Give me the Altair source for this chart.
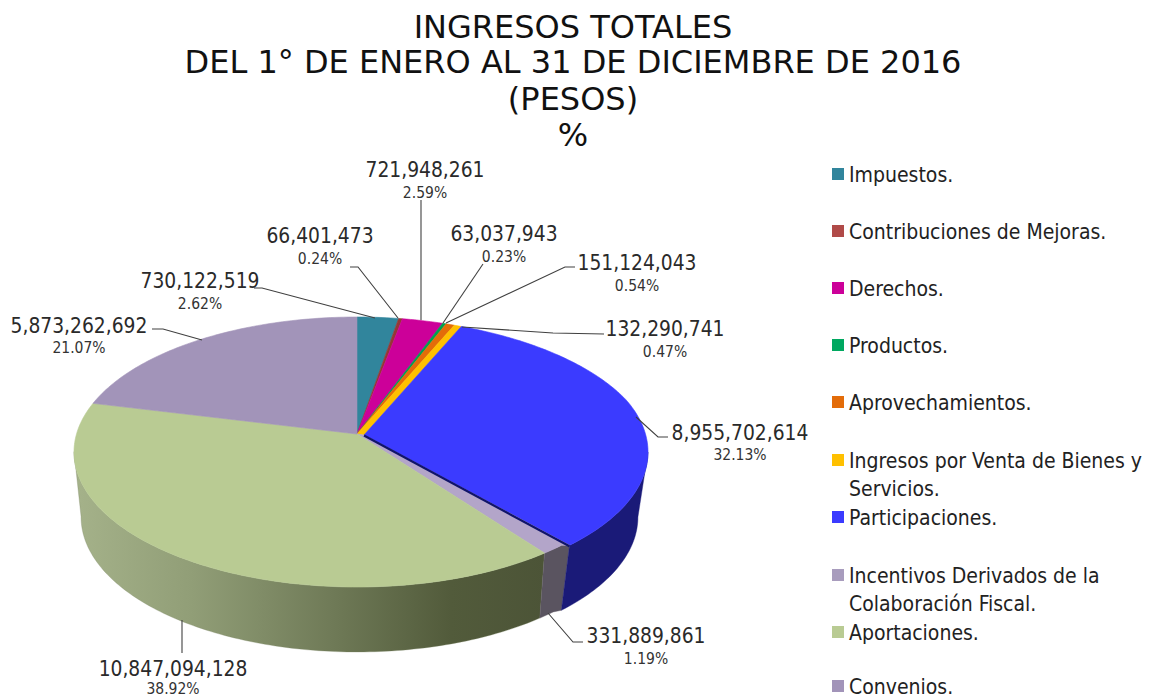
import math
import altair as alt
import pandas as pd

categories = ["Impuestos.", "Contribuciones de Mejoras.", "Derechos.", "Productos.", "Aprovechamientos.",
              "Ingresos por Venta de Bienes y Servicios.", "Participaciones.",
              "Incentivos Derivados de la Colaboración Fiscal.", "Aportaciones.", "Convenios."]
amounts = [730122519, 66401473, 721948261, 63037943, 151124043, 132290741,
           8955702614, 331889861, 10847094128, 5873262692]
percents = [2.62, 0.24, 2.59, 0.23, 0.54, 0.47, 32.13, 1.19, 38.92, 21.07]
top_colors = ["#31859c", "#953735", "#cc0099", "#00a050", "#e36c09", "#ffc000",
              "#3b3bff", "#b3a5c9", "#b9cb93", "#a294b9"]
legend_colors = ["#31859c", "#b04a48", "#cc0099", "#00a860", "#e36c09", "#ffc000",
                 "#3b3bff", "#a89cbd", "#b9cb93", "#a294b9"]

W, H = 1138, 690
OX, OY = 8, 8
CX, CY, RX, RY = 357.0, 452.0, 283.0, 135.0
TX, TY = 357.0, 434.0
DEPTH, TAPER = 65.0, 0.975
RATIO = 2.17
PULL, PULL_LOW = 8.0, 5.0

xs = alt.Scale(domain=[OX, OX + W], range=[0, W])
ys = alt.Scale(domain=[OY, OY + H], range=[0, H])
X = alt.X("x:Q", scale=xs, axis=None)
Y = alt.Y("y:Q", scale=ys, axis=None)


def rim(theta_deg):
    theta = math.radians(theta_deg)
    dx, dy = RATIO * math.sin(theta), -math.cos(theta)
    a = (dx / RX) ** 2 + (dy / RY) ** 2
    ex, ey = TX - CX, TY - CY
    b = 2 * (ex * dx / RX**2 + ey * dy / RY**2)
    c = (ex / RX) ** 2 + (ey / RY) ** 2 - 1
    s = (-b + math.sqrt(b * b - 4 * a * c)) / (2 * a)
    return TX + s * dx, TY + s * dy


def angles(start, end):
    n = max(2, int(end - start) + 2)
    return [start + (end - start) * i / (n - 1) for i in range(n)]


def poly_df(points):
    return pd.DataFrame([{"x": x, "y": y, "i": i} for i, (x, y) in enumerate(points)])


def polygon(points, paint, edge, width):
    return alt.Chart(poly_df(points)).mark_line(fill=paint, stroke=edge, strokeWidth=width).encode(
        x=X, y=Y, order="i:O")


total = sum(percents)
limits = {}
cum = 0.0
for name, pct in zip(categories, percents):
    limits[name] = (cum / total * 360, (cum + pct) / total * 360)
    cum += pct

YELLOW, BLUE, MAUVE, GREEN = categories[5], categories[6], categories[7], categories[8]
blue_start, blue_end = limits[BLUE]
bx, by = rim(blue_end)
blue_corner = (bx + PULL, by)
blue_tip = (TX + 7, TY + 1)

layers_top = []
for name, color in zip(categories, top_colors):
    start, end = limits[name]
    th = angles(start, end)
    if name == BLUE:
        pts = []
        for t in th:
            x, y = rim(t)
            pts.append((x + PULL * min(1.0, (t - start) / 50.0), y))
        poly = [blue_tip] + pts + [blue_tip]
    elif name == MAUVE:
        poly = [(TX, TY), blue_tip, blue_corner] + [rim(t) for t in th] + [(TX, TY)]
    elif name == YELLOW:
        poly = [(TX, TY)] + [rim(t) for t in th] + [blue_tip, (TX, TY)]
    else:
        poly = [(TX, TY)] + [rim(t) for t in th] + [(TX, TY)]
    layers_top.append(polygon(poly, color, color, 0.6))

# side walls: only the three slices whose rim faces the viewer
blue_th = angles(blue_start, blue_end)
blue_pts = []
blue_low = []
for t in blue_th:
    x, y = rim(t)
    ramp = min(1.0, (t - blue_start) / 50.0)
    blue_pts.append((x + PULL * ramp, y))
    blue_low.append((CX + (x - CX) * TAPER + PULL_LOW * ramp, y + DEPTH))
k = max(range(len(blue_pts)), key=lambda j: blue_pts[j][0])
wall_blue = polygon(blue_pts[k:] + blue_low[k:][::-1] + [blue_pts[k]], "#1a1a78", "#1a1a78", 0.4)

m_th = angles(*limits[MAUVE])
m_pts = [rim(t) for t in m_th]
m_low = [(CX + (x - CX) * TAPER, y + DEPTH) for x, y in m_pts]
m_low[0] = (m_low[0][0] + PULL_LOW, m_low[0][1])
wall_mauve = polygon([blue_corner] + m_pts + m_low[::-1] + [blue_corner], "#5a5460", "#5a5460", 0.4)

g_th = angles(*limits[GREEN])
g_pts = [rim(t) for t in g_th]
k = min(range(len(g_pts)), key=lambda j: g_pts[j][0])
g_pts = g_pts[:k + 1]
g_low = [(CX + (x - CX) * TAPER, y + DEPTH) for x, y in g_pts]
shade = alt.Gradient(gradient="linear", x1=0, x2=1, y1=0, y2=0, stops=[
    alt.GradientStop(color="#a5b28a", offset=0),
    alt.GradientStop(color="#919e77", offset=0.25),
    alt.GradientStop(color="#6f7a57", offset=0.55),
    alt.GradientStop(color="#525b3b", offset=0.8),
    alt.GradientStop(color="#4c5437", offset=1)])
wall_green = polygon(g_pts + g_low[::-1] + [g_pts[0]], shade, "#7a8562", 0.3)

edge_df = pd.DataFrame({"x": [blue_tip[0], blue_corner[0]], "y": [blue_tip[1] + 0.5, blue_corner[1] + 1], "i": [0, 1]})
blue_edge = alt.Chart(edge_df).mark_line(stroke="#10146a", strokeWidth=2.2).encode(x=X, y=Y, order="i:O")

leaders = [
    [(254, 288), (262, 288), (375, 318)],
    [(350, 267), (358, 267), (398, 318)],
    [(421, 200), (421, 320)],
    [(483, 264), (443, 323)],
    [(575, 267), (565, 267), (446, 323)],
    [(604, 334), (553, 333), (462, 327)],
    [(668, 437), (658, 437), (636, 417)],
    [(583, 642), (573, 642), (548, 613)],
    [(182, 620), (182, 653)],
    [(152, 329), (163, 329), (202, 340)],
]
leader_rows = []
for n, seg in enumerate(leaders):
    for i, (x, y) in enumerate(seg):
        leader_rows.append({"x": x, "y": y, "i": i, "k": n})
leader_layer = alt.Chart(pd.DataFrame(leader_rows)).mark_line(stroke="#404040", strokeWidth=1.1).encode(
    x=X, y=Y, order="i:O", detail="k:N")

label_pos = [(200, 280, 303), (320, 235, 258), (425, 169, 192), (504, 233, 256), (637, 262, 285),
             (665, 328, 351), (740, 432, 454), (646, 635, 658), (173, 668, 688), (79, 325, 347)]
main_rows, sub_rows = [], []
for amt, pct, (x, y1, y2) in zip(amounts, percents, label_pos):
    main_rows.append({"x": x, "y": y1, "t": f"{amt:,}"})
    sub_rows.append({"x": x, "y": y2, "t": f"{pct:.2f}%"})
LABEL_FONT = "DejaVu Sans Condensed"
main_labels = alt.Chart(pd.DataFrame(main_rows)).mark_text(
    font=LABEL_FONT, fontSize=20.8, color="#2a2a2a", align="center", baseline="middle", dy=2).encode(
    x=X, y=Y, text="t:N")
sub_labels = alt.Chart(pd.DataFrame(sub_rows)).mark_text(
    font=LABEL_FONT, fontSize=15.5, color="#333333", align="center", baseline="middle", dy=1).encode(
    x=X, y=Y, text="t:N")

legend_lines = [
    ["Impuestos."], ["Contribuciones de Mejoras."], ["Derechos."], ["Productos."], ["Aprovechamientos."],
    ["Ingresos por Venta de Bienes y", "Servicios."], ["Participaciones."],
    ["Incentivos Derivados de la", "Colaboración Fiscal."], ["Aportaciones."], ["Convenios."],
]
legend_y = [174, 231, 288, 345, 402, 460, 517, 575, 632, 686]
sq_rows, txt_rows = [], []
for lines, y, color in zip(legend_lines, legend_y, legend_colors):
    sq_rows.append({"x": 838, "y": y, "c": color})
    for j, line in enumerate(lines):
        txt_rows.append({"x": 849, "y": y + 28 * j, "t": line})
legend_sq = alt.Chart(pd.DataFrame(sq_rows)).mark_square(size=144, opacity=1, strokeWidth=0).encode(
    x=X, y=Y, color=alt.Color("c:N", scale=None))
legend_txt = alt.Chart(pd.DataFrame(txt_rows)).mark_text(
    font=LABEL_FONT, fontSize=21, color="#222222", align="left", baseline="middle", dy=2).encode(
    x=X, y=Y, text="t:N")

title_lines = ["INGRESOS TOTALES", "DEL 1° DE ENERO AL 31 DE DICIEMBRE DE 2016", "(PESOS)", "%"]
title_y = [28, 63, 100, 136]
title_df = pd.DataFrame({"x": [573] * 4, "y": title_y, "t": title_lines})
title = alt.Chart(title_df).mark_text(
    font="DejaVu Sans", fontSize=32, color="#111111", align="center", baseline="middle").encode(
    x=X, y=Y, text="t:N")

chart = alt.layer(
    wall_green, wall_mauve, wall_blue, *layers_top, blue_edge, leader_layer,
    main_labels, sub_labels, legend_sq, legend_txt, title
).properties(
    width=W, height=H, padding=0, background="white",
    autosize=alt.AutoSizeParams(type="none"),
).configure_view(stroke=None)

chart.save("out.html", embed_options={"renderer": "svg", "actions": False})
